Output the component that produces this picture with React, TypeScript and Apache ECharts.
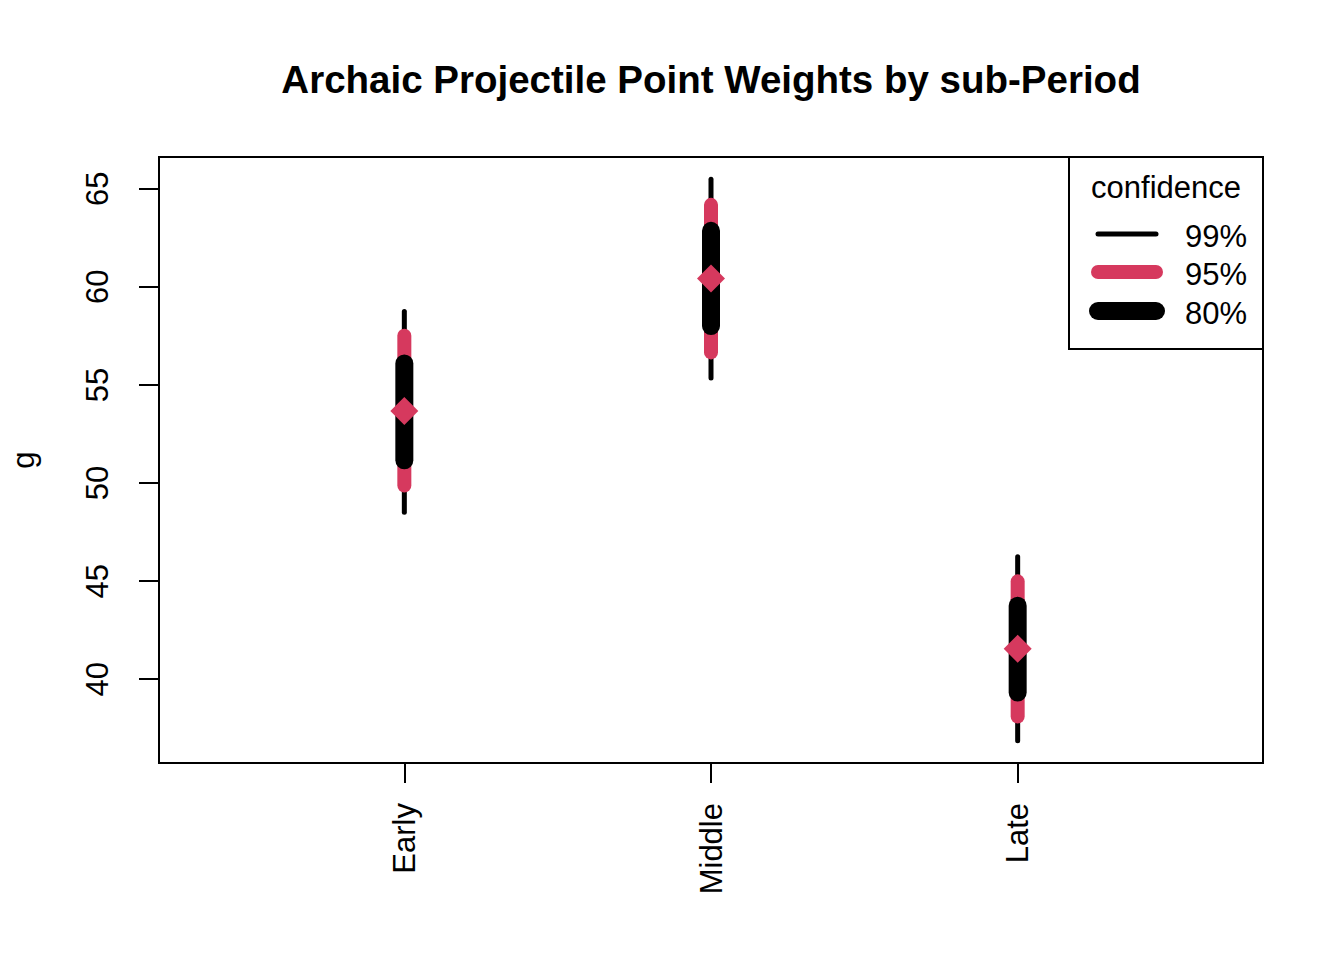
import React, { useEffect, useRef } from "react";
import * as echarts from "echarts";

const categories = ["Early", "Middle", "Late"];
const positions = [1, 2, 3];
const means = [53.67, 60.43, 41.56];
const lo99 = [48.51, 55.36, 36.87];
const hi99 = [58.75, 65.48, 46.24];
const lo95 = [49.87, 56.66, 38.1];
const hi95 = [57.51, 64.18, 44.99];
const lo80 = [51.16, 58.0, 39.32];
const hi80 = [56.1, 62.86, 43.75];
const yTicks = [40, 45, 50, 55, 60, 65];
const levels = ["99%", "95%", "80%"];

const RED = "#D6395E";
const FONT = "'Liberation Sans', Arial, Helvetica, sans-serif";

function intervalSeries(name: string, lo: number[], hi: number[], color: string, width: number) {
  return {
    name,
    type: "custom",
    data: positions.map((p, i) => [p, lo[i], hi[i]]),
    encode: { x: 0, y: [1, 2] },
    renderItem: (params: any, api: any) => {
      const x = api.value(0);
      const a = api.coord([x, api.value(1)]);
      const b = api.coord([x, api.value(2)]);
      return {
        type: "line",
        shape: { x1: a[0], y1: a[1], x2: b[0], y2: b[1] },
        style: { stroke: color, lineWidth: width, lineCap: "round" },
      };
    },
    z: 2,
  };
}

export default function App() {
  const ref = useRef<HTMLDivElement>(null);
  useEffect(() => {
    if (!ref.current) return;
    const chart = echarts.init(ref.current, null, { renderer: "svg" });
    const legendColors = ["#000000", RED, "#000000"];
    const legendWidths = [5, 14, 18];
    const legendYs = [234, 272, 311];
    const legendItems: any[] = [];
    levels.forEach((lv, i) => {
      legendItems.push({
        type: "line",
        shape: { x1: 1098, y1: legendYs[i], x2: 1156, y2: legendYs[i] },
        style: { stroke: legendColors[i], lineWidth: legendWidths[i], lineCap: "round" },
      });
      legendItems.push({
        type: "text",
        x: 1185,
        y: legendYs[i] + 2,
        style: {
          text: lv,
          fill: "#000",
          font: `31px ${FONT}`,
          textAlign: "left",
          textVerticalAlign: "middle",
        },
      });
    });
    chart.setOption({
      animation: false,
      backgroundColor: "#ffffff",
      textStyle: { fontFamily: FONT },
      title: {
        text: "Archaic Projectile Point Weights by sub-Period",
        left: 706,
        top: 74,
        textAlign: "center",
        textVerticalAlign: "middle",
        textStyle: { fontSize: 38.5, fontWeight: "bold", color: "#000", fontFamily: FONT },
      },
      grid: {
        left: 157,
        top: 157,
        width: 1106,
        height: 606,
        show: true,
        borderColor: "#000",
        borderWidth: 2,
        backgroundColor: "transparent",
      },
      xAxis: {
        type: "value",
        min: 0.2,
        max: 3.8,
        splitLine: { show: false },
        axisLine: { show: false },
        axisTick: {
          show: true,
          customValues: positions,
          length: 20,
          lineStyle: { color: "#000", width: 2 },
        },
        axisLabel: {
          customValues: positions,
          formatter: (v: number) => categories[Math.round(v) - 1] ?? "",
          rotate: 90,
          margin: 40,
          fontSize: 31,
          color: "#000",
          fontFamily: FONT,
        },
      },
      yAxis: {
        type: "value",
        min: 35.73,
        max: 66.62,
        name: "g",
        nameLocation: "middle",
        nameRotate: 90,
        nameGap: 120,
        nameTextStyle: { fontSize: 31, color: "#000", fontFamily: FONT },
        splitLine: { show: false },
        axisLine: { show: false },
        axisTick: {
          show: true,
          customValues: yTicks,
          length: 20,
          lineStyle: { color: "#000", width: 2 },
        },
        axisLabel: {
          customValues: yTicks,
          rotate: 90,
          margin: 46,
          fontSize: 31,
          color: "#000",
          fontFamily: FONT,
        },
      },
      series: [
        intervalSeries("99%", lo99, hi99, "#000000", 5),
        intervalSeries("95%", lo95, hi95, RED, 14),
        intervalSeries("80%", lo80, hi80, "#000000", 18),
        {
          name: "mean",
          type: "scatter",
          data: positions.map((p, i) => [p, means[i]]),
          symbol: "diamond",
          symbolSize: [28, 28],
          itemStyle: { color: RED, opacity: 1 },
          z: 5,
        },
      ],
      graphic: [
        {
          type: "rect",
          shape: { x: 1069, y: 157, width: 194, height: 192 },
          style: { fill: "#fff", stroke: "#000", lineWidth: 2 },
          z: 10,
        },
        {
          type: "text",
          x: 1166,
          y: 187,
          style: {
            text: "confidence",
            fill: "#000",
            font: `31px ${FONT}`,
            textAlign: "center",
            textVerticalAlign: "middle",
          },
          z: 11,
        },
        ...legendItems.map((it) => ({ ...it, z: 11 })),
      ],
    });
    return () => chart.dispose();
  }, []);
  return (
    <div
      ref={ref}
      style={{ position: "fixed", left: 0, top: 0, width: 1344, height: 960, background: "#fff" }}
    />
  );
}
